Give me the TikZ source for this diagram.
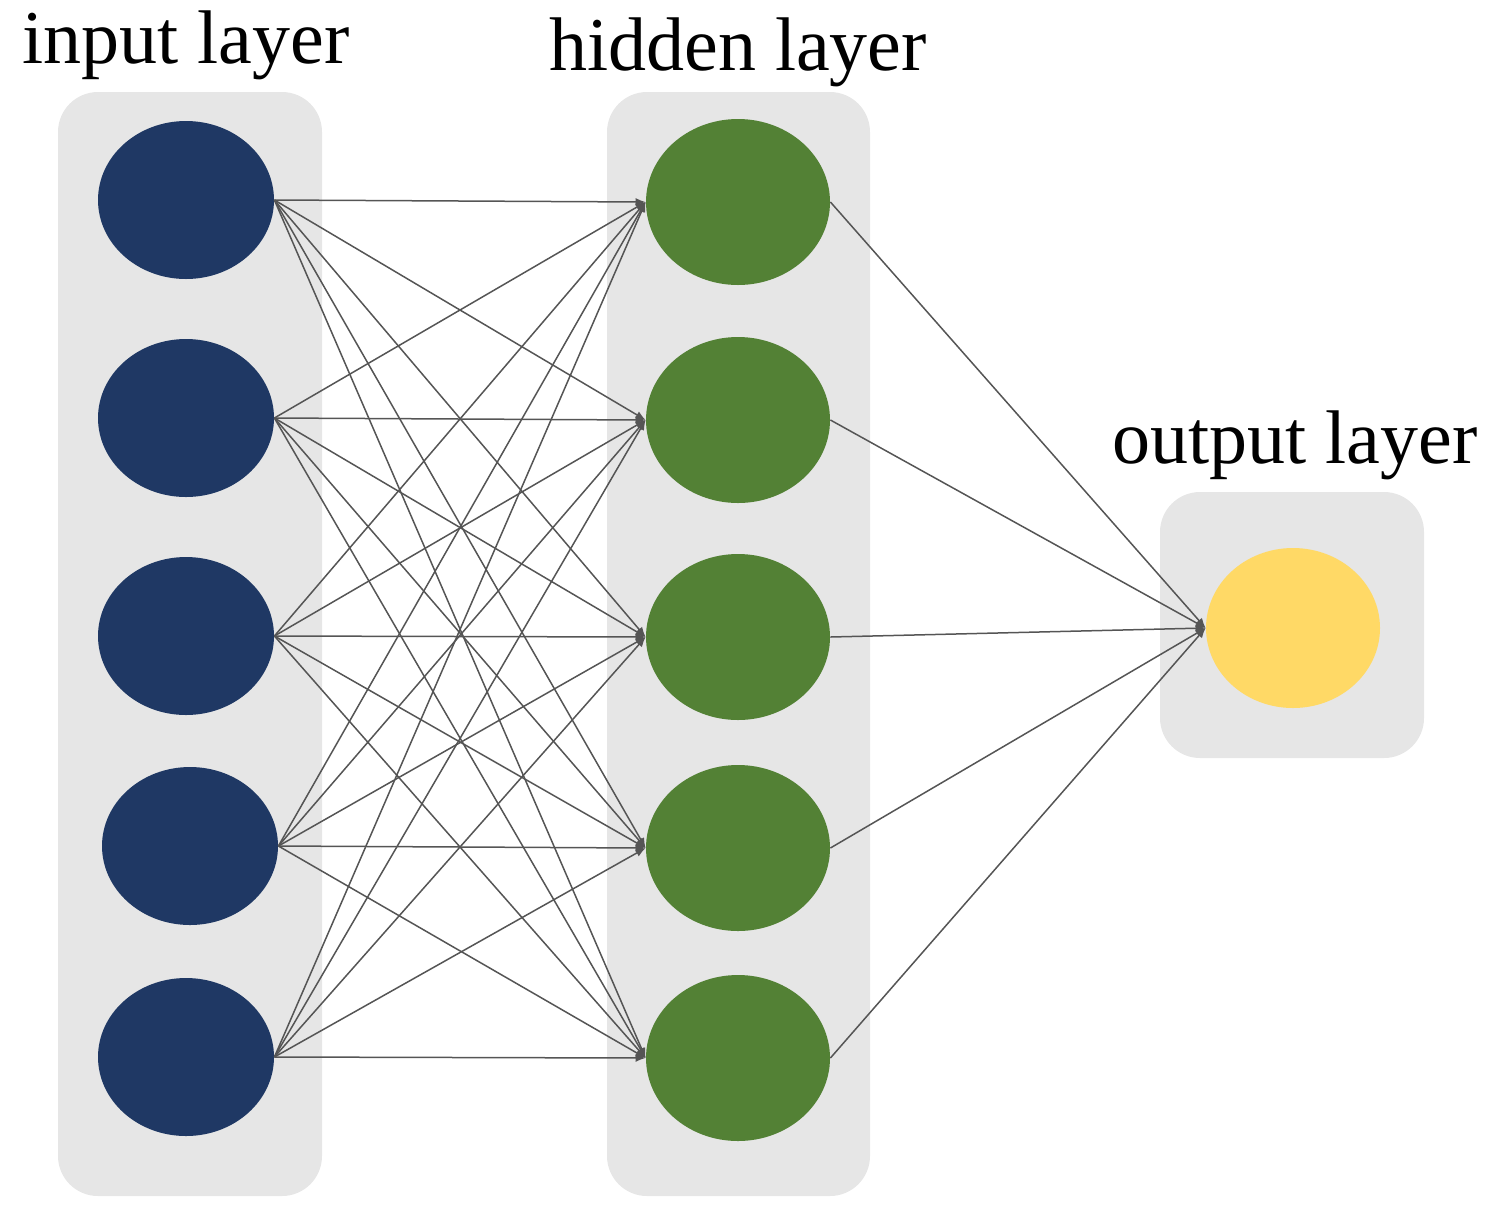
\documentclass[tikz,border=0pt]{standalone}
\usepackage{fontspec}
\setmainfont{Liberation Serif}
\usetikzlibrary{arrows.meta,shapes.geometric}
\definecolor{navy}{HTML}{1F3864}
\definecolor{grn}{HTML}{538135}
\definecolor{yel}{HTML}{FFD966}
\definecolor{pan}{HTML}{E6E6E6}
\definecolor{ln}{HTML}{555555}
\begin{document}
\begin{tikzpicture}[x=0.5pt,y=-0.5pt,
  panel/.style={fill=pan,draw=none,rounded corners=20pt},
  neuron/.style={ellipse,draw=none,inner sep=0pt},
  lab/.style={font=\fontsize{38}{40}\selectfont,inner sep=0pt},
  conn/.style={draw=ln,line width=0.75pt,-{Latex[length=5pt,width=4pt]}}]
\useasboundingbox (0,0) rectangle (1509,1217);
\fill[panel] (58,92) rectangle (322,1196);
\fill[panel] (607,92) rectangle (870,1196);
\fill[panel] (1160,492) rectangle (1424,758);
\node[lab] (tin) at (186,45) {input layer};
\node[lab] (thid) at (738,52) {hidden layer};
\node[lab] (tout) at (1295,445) {output layer};
\foreach \n/\x/\y in {1/186/200,2/186/418,3/186/636,4/190/846,5/186/1057}
  \node[neuron,fill=navy,minimum width=88pt,minimum height=79pt] (i\n) at (\x,\y) {};
\foreach \n/\y in {1/202,2/420,3/637,4/848,5/1058}
  \node[neuron,fill=grn,minimum width=92pt,minimum height=83pt] (h\n) at (738,\y) {};
\node[neuron,fill=yel,minimum width=87pt,minimum height=80pt] (o) at (1293,628) {};
\foreach \a in {1,...,5}
  \foreach \b in {1,...,5}
    \draw[conn] (i\a.east) -- (h\b.west);
\foreach \b in {1,...,5}
  \draw[conn] (h\b.east) -- (o.west);
\end{tikzpicture}
\end{document}
